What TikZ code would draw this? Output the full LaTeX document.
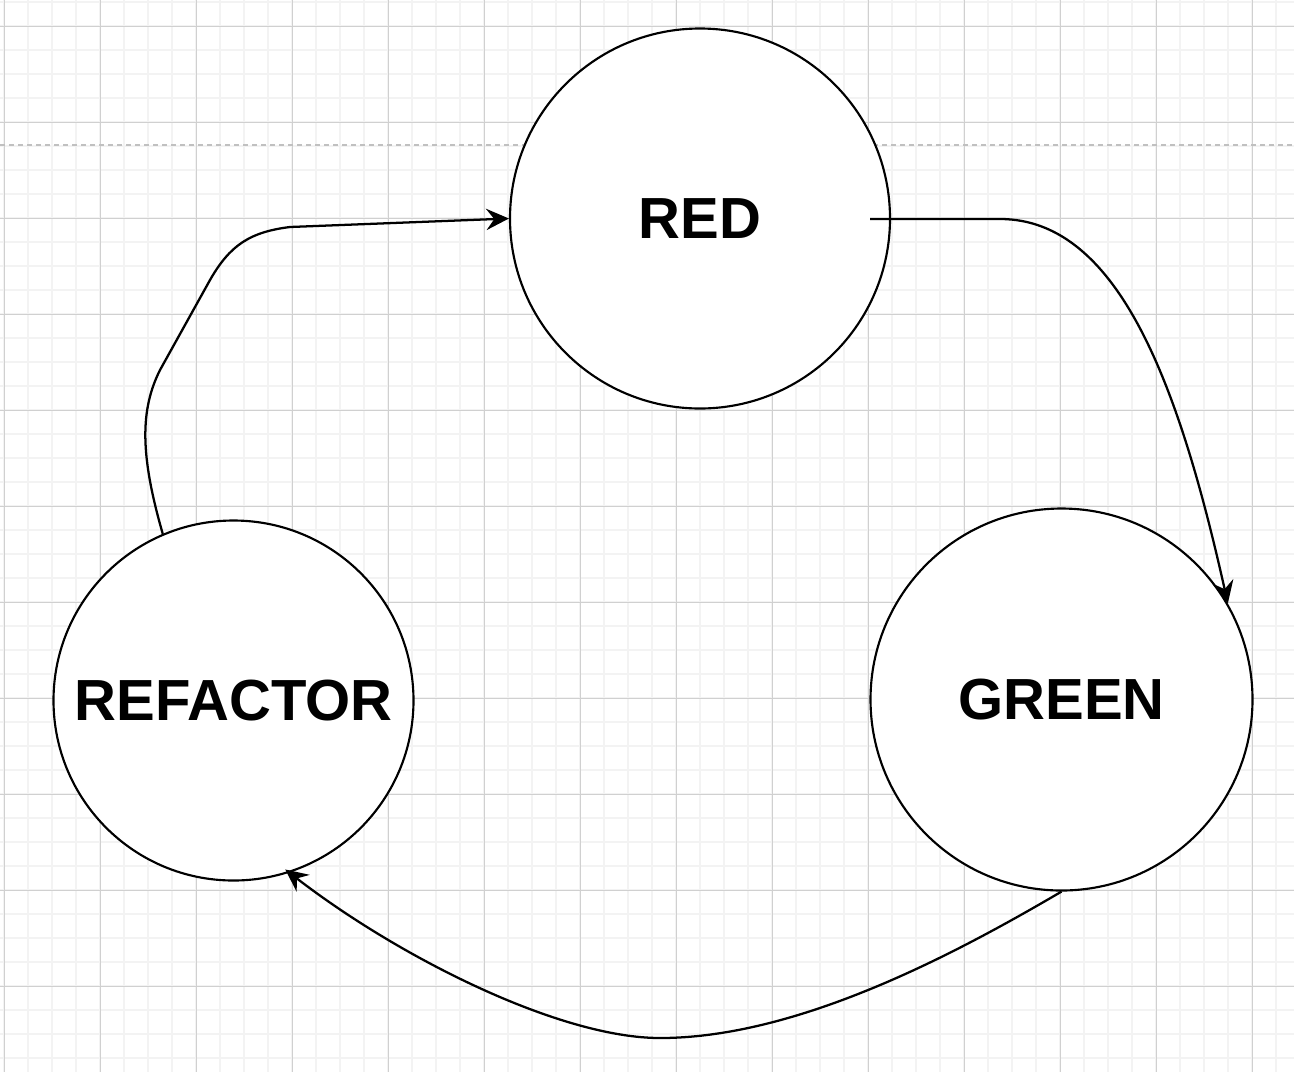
\documentclass[tikz,border=0pt]{standalone}
\usepackage{fontspec}
\setmainfont{Liberation Sans}
\usetikzlibrary{arrows.meta}

\definecolor{gridminor}{RGB}{243,243,243}
\definecolor{gridmajor}{RGB}{208,208,208}
\definecolor{pageline}{RGB}{192,192,192}

\tikzset{every picture/.style={line width=0.75pt}}
\tikzset{
	stage/.style={circle, draw=black, fill=white, line width=1.6pt, inner sep=0pt,
		font=\fontsize{43.5}{52}\selectfont\bfseries},
	flow/.style={-{Stealth[length=17pt, width=16pt, inset=6pt]}, line width=1.7pt}
}

\begin{document}
\begin{tikzpicture}[x=0.75pt,y=0.75pt,yscale=-1,xscale=1]
	\useasboundingbox (0,0) rectangle (1294,1072);
	\fill[white] (0,0) rectangle (1294,1072);
	
	%Grid: minor lines
	\foreach \gx in {4,28,...,1294} \draw[gridminor, line width=1pt] (\gx,0) -- (\gx,1072);
	\foreach \gy in {2,26,...,1072} \draw[gridminor, line width=1pt] (0,\gy) -- (1294,\gy);
	%Grid: major lines
	\foreach \gx in {4,100,...,1294} \draw[gridmajor] (\gx,0) -- (\gx,1072);
	\foreach \gy in {26,122,...,1072} \draw[gridmajor] (0,\gy) -- (1294,\gy);
	
	%Straight Lines: page break
	\draw[pageline, line width=1pt, dash pattern={on 3.75pt off 3pt}] (0,145) -- (1294,145);
	
	%Shape: Circle
	\node[stage, minimum size=285pt] (RED) at (700,218.5) {RED};
	%Shape: Circle
	\node[stage, minimum size=286.5pt] (GREEN) at (1061.5,699.5) {GREEN};
	%Shape: Circle
	\node[stage, minimum size=270pt] (REFACTOR) at (233.5,700.5) {REFACTOR};
	
	\coordinate (redout) at (870,219);
	
	%Curve Lines
	\draw[flow] (redout) -- (1000,219) .. controls (1120,219) and (1180,390) .. (GREEN.30);
	%Curve Lines
	\draw[flow, shorten >=-4pt] (GREEN.south) .. controls (960,951) and (800,1038) .. (660,1038)
		.. controls (560,1038) and (400,958) .. (REFACTOR.-72);
	%Curve Lines
	\draw[flow] (REFACTOR.113) .. controls (140,455) and (140,410) .. (160,370) -- (210,280)
		.. controls (230,245) and (250,232) .. (290,227) -- (RED.west);
	
\end{tikzpicture}
\end{document}
